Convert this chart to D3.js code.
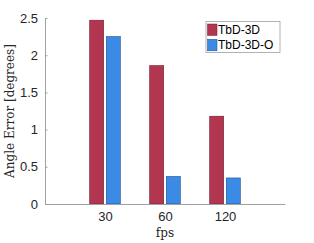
<!DOCTYPE html>
<html>
<head>
<meta charset="utf-8">
<script src="https://cdn.jsdelivr.net/npm/d3@7"></script>
<style>
  body { margin: 0; background: #fff; }
  svg { display: block; }
</style>
</head>
<body>
<svg id="chart" width="314" height="243"></svg>
<script>
const categories = ["30", "60", "120"];
const seriesNames = ["TbD-3D", "TbD-3D-O"];
const tbd3d = [2.47, 1.86, 1.18];
const tbd3dO = [2.25, 0.37, 0.35];
const yTicks = [0, 0.5, 1, 1.5, 2, 2.5];

const svg = d3.select("#chart");
const colors = ["#b2364f", "#3a8ae6"];
const strokes = ["#6e1f30", "#1f4f8a"];

const x = d3.scaleLinear().domain([0, categories.length + 1]).range([45, 285]);
const y = d3.scaleLinear().domain([0, 2.5]).range([204, 18]);

const barW = 14;
const offset = 8.3;
const series = [tbd3d, tbd3dO];

// bars
series.forEach((vals, s) => {
    svg.append("g").selectAll("rect")
        .data(vals)
        .enter().append("rect")
        .attr("x", (d, i) => x(i + 1) + (s === 0 ? -offset : offset) - barW / 2)
        .attr("y", d => y(d))
        .attr("width", barW)
        .attr("height", d => y(0) - y(d))
        .style("fill", colors[s])
        .style("stroke", strokes[s])
        .style("stroke-width", 0.6);
});

// y axis
const yAxis = svg.append("g")
    .attr("transform", `translate(45,0)`)
    .call(d3.axisLeft(y).tickValues(yTicks).tickFormat(d => d).tickSizeInner(-2.5).tickSizeOuter(0).tickPadding(7));
yAxis.select(".domain").attr("stroke", "#a0a0a0");
yAxis.selectAll(".tick line").attr("stroke", "#a0a0a0");
yAxis.selectAll("text")
    .style("font-family", "Liberation Sans, Arial, sans-serif")
    .style("font-size", "13px")
    .style("fill", "#262626");

// x axis
const xAxis = svg.append("g")
    .attr("transform", `translate(0,204)`)
    .call(d3.axisBottom(x).tickValues([1, 2, 3]).tickFormat(d => categories[d - 1]).tickSizeInner(0).tickSizeOuter(0).tickPadding(8));
xAxis.select(".domain").attr("stroke", "#a0a0a0");
xAxis.selectAll("text")
    .style("font-family", "Liberation Sans, Arial, sans-serif")
    .style("font-size", "13px")
    .style("fill", "#262626");

// axis titles
svg.append("text")
    .attr("x", x(2))
    .attr("y", 237)
    .attr("text-anchor", "middle")
    .style("font-family", "DejaVu Serif, serif")
    .style("font-size", "12px")
    .style("fill", "#262626")
    .text("fps");

svg.append("text")
    .attr("transform", `translate(14,${y(1.25)}) rotate(-90)`)
    .attr("text-anchor", "middle")
    .style("font-family", "DejaVu Serif, serif")
    .style("font-size", "12px")
    .style("fill", "#262626")
    .text("Angle Error [degrees]");

// legend
const legend = svg.append("g").attr("transform", "translate(206,21.5)");
legend.append("rect")
    .attr("width", 74)
    .attr("height", 31)
    .style("fill", "#fff")
    .style("stroke", "#a0a0a0")
    .style("stroke-width", 0.8);
seriesNames.forEach((name, i) => {
    legend.append("rect")
        .attr("x", 1.5)
        .attr("y", 2.5 + i * 15.3)
        .attr("width", 9.5)
        .attr("height", 11.5)
        .style("fill", colors[i])
        .style("stroke", strokes[i])
        .style("stroke-width", 0.5);
    legend.append("text")
        .attr("x", 12)
        .attr("y", 12.5 + i * 15.3)
        .style("font-family", "Liberation Sans, Arial, sans-serif")
        .style("font-size", "12px")
        .style("fill", "#000")
        .text(name);
});
</script>
</body>
</html>
